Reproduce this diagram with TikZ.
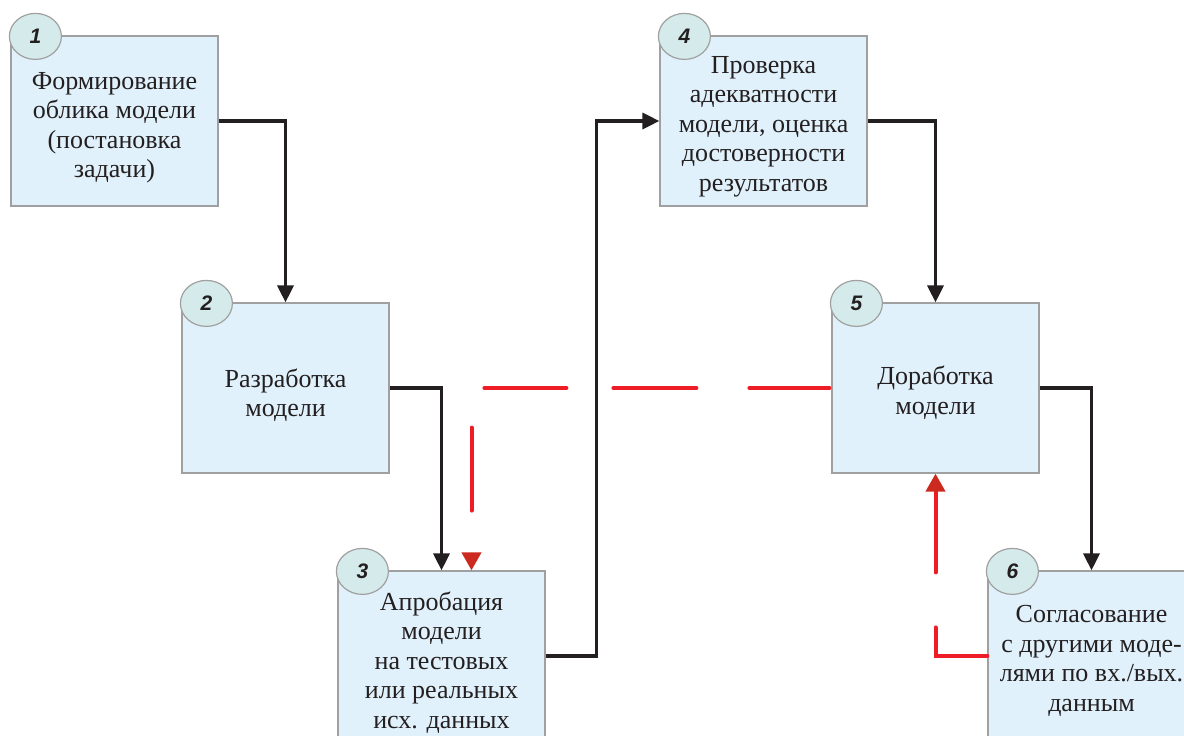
\documentclass[tikz,border=0pt]{standalone}
\usepackage{fontspec}
\setmainfont{Liberation Serif}
\newfontfamily\numfont{Liberation Sans}
\usetikzlibrary{arrows.meta,shapes.geometric}
\definecolor{boxfill}{HTML}{E0F1FB}
\definecolor{boxline}{HTML}{A0A0A0}
\definecolor{badgefill}{HTML}{D5EBEB}
\definecolor{linered}{HTML}{EE1C25}
\definecolor{tipred}{HTML}{CC2A1E}
\definecolor{ink}{HTML}{231F20}
\begin{document}
\begin{tikzpicture}[x=1pt,y=-1pt,
  stagebox/.style={draw=boxline, line width=1.2pt, fill=boxfill, minimum width=207pt, minimum height=170pt, inner sep=0pt},
  badge/.style={ellipse, draw=boxline, line width=1.2pt, fill=badgefill, minimum width=52pt, minimum height=46pt, inner sep=0pt, font=\numfont\bfseries\itshape\fontsize{21}{21}\selectfont, text=ink},
  label/.style={align=center, font=\fontsize{26}{29.5}\selectfont, text=ink, inner sep=0pt},
  conn/.style={draw=ink, line width=3.3pt, -{Triangle[length=17pt,width=16pt]}},
  feedback/.style={draw=linered, line width=4pt, line cap=round, -{Triangle[length=18pt,width=19pt,color=tipred,line cap=butt]}}
]
\useasboundingbox (0,0) rectangle (1184,736);
\clip (0,0) rectangle (1184,736);

% boxes
\node[stagebox] (b1) at (114.5,121) {};
\node[stagebox] (b2) at (285.5,388) {};
\node[stagebox] (b3) at (441.5,656) {};
\node[stagebox] (b4) at (763.5,121) {};
\node[stagebox] (b5) at (935.5,388) {};
\node[stagebox] (b6) at (1091.5,656) {};

% badges
\node[badge] (n1) at ([xshift=25pt,yshift=-1pt]b1.north west) {1};
\node[badge] (n2) at ([xshift=25pt,yshift=-1pt]b2.north west) {2};
\node[badge] (n3) at ([xshift=25pt,yshift=-1pt]b3.north west) {3};
\node[badge] (n4) at ([xshift=25pt,yshift=-1pt]b4.north west) {4};
\node[badge] (n5) at ([xshift=25pt,yshift=-1pt]b5.north west) {5};
\node[badge] (n6) at ([xshift=25pt,yshift=-1pt]b6.north west) {6};

% texts
\node[label] (t1) at (114.5,128) {Формирование\\облика модели\\(постановка\\задачи)};
\node[label] (t2) at (285.5,395) {Разработка\\модели};
\node[label] (t3) at (441.5,662.5) {Апробация\\модели\\на тестовых\\или реальных\\исх. данных};
\node[label] (t4) at (763.5,126.5) {Проверка\\адекватности\\модели, оценка\\достоверности\\результатов};
\node[label] (t5) at (935.5,392.5) {Доработка\\модели};
\node[label] (t6) at (1091.5,661) {Согласование\\с другими моде-\\лями по вх./вых.\\данным};

% main flow
\draw[conn] (b1.east) -| (b2.north);
\draw[conn] (b2.east) -| (b3.north);
\draw[conn] (b3.east) -- ++(51,0) |- (b4.west);
\draw[conn] (b4.east) -| (b5.north);
\draw[conn] (b5.east) -| (b6.north);

% feedback loops
\draw[feedback, dash pattern=on 80pt off 53pt on 83pt off 47pt on 82pt off 52.5pt on 83pt off 202pt, dash phase=680.5pt]
  (b5.west) -| ([xshift=30pt]b3.north);
\draw[feedback, dash pattern=on 80.5pt off 55pt on 300pt off 10pt]
  (b6.west) -| (b5.south);
\end{tikzpicture}
\end{document}
